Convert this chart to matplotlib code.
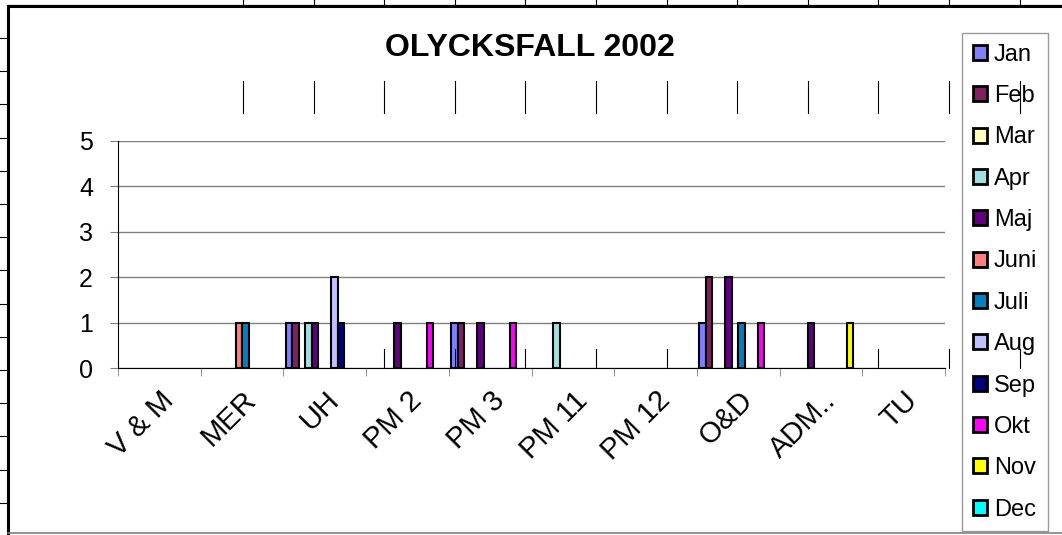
import matplotlib
matplotlib.use("Agg")
import matplotlib.pyplot as plt
import numpy as np
from matplotlib.lines import Line2D

plt.rcParams['font.family'] = ['Liberation Sans', 'DejaVu Sans']

categories = ["V & M", "MER", "UH", "PM 2", "PM 3", "PM 11", "PM 12", "O&D", "ADM..", "TU"]
months = ["Jan", "Feb", "Mar", "Apr", "Maj", "Juni", "Juli", "Aug", "Sep", "Okt", "Nov", "Dec"]

jan = [0, 0, 1, 0, 1, 0, 0, 1, 0, 0]
feb = [0, 0, 1, 0, 1, 0, 0, 2, 0, 0]
mar = [0, 0, 0, 0, 0, 0, 0, 0, 0, 0]
apr = [0, 0, 1, 0, 0, 1, 0, 0, 0, 0]
maj = [0, 0, 1, 1, 1, 0, 0, 2, 1, 0]
juni = [0, 1, 0, 0, 0, 0, 0, 0, 0, 0]
juli = [0, 1, 0, 0, 0, 0, 0, 1, 0, 0]
aug = [0, 0, 2, 0, 0, 0, 0, 0, 0, 0]
sep = [0, 0, 1, 0, 0, 0, 0, 0, 0, 0]
okt = [0, 0, 0, 1, 1, 0, 0, 1, 0, 0]
nov = [0, 0, 0, 0, 0, 0, 0, 0, 1, 0]
dec = [0, 0, 0, 0, 0, 0, 0, 0, 0, 0]
series = [jan, feb, mar, apr, maj, juni, juli, aug, sep, okt, nov, dec]

colors = ["#8080FF", "#802060", "#FFFFC0", "#A0E0E0", "#600080", "#FF8080",
          "#0080C0", "#C0C0FF", "#000080", "#FF00FF", "#FFFF00", "#00FFFF"]

W, H = 1062, 535
fig = plt.figure(figsize=(W / 100, H / 100), dpi=100)
ax = fig.add_axes([118 / W, 1 - 368 / H, (945 - 118) / W, (368 - 141) / H])

x = np.arange(len(categories))
bw = 1 / 12.75
for i, (vals, m, c) in enumerate(zip(series, months, colors)):
    v = np.array(vals, dtype=float)
    v[v == 0] = np.nan
    ax.bar(x + (i - 5.5) * bw, v, bw, color=c, edgecolor="black",
           linewidth=1.5, label=m, zorder=3)

ax.set_xlim(-0.5, len(categories) - 0.5)
ax.set_ylim(0, 5)
ax.set_yticks(range(6))
ax.yaxis.grid(True, color="#808080", linewidth=1, zorder=0)
ax.set_axisbelow(True)
for s in ["top", "right"]:
    ax.spines[s].set_visible(False)
ax.spines["left"].set_color("black")
ax.spines["bottom"].set_color("black")
ax.spines["bottom"].set_zorder(4)

ax.set_xticks(x)
ax.set_xticklabels(categories, rotation=45, ha="right", rotation_mode="anchor", fontsize=21)
ax.set_xticks(np.arange(-0.5, len(categories)), minor=True)
ax.tick_params(axis="x", which="major", length=0, pad=13)
ax.tick_params(axis="x", which="minor", length=6, color="#808080", direction="out")
ax.tick_params(axis="y", length=6, color="#808080", labelsize=18, pad=12)

fig.text(0.499, 1 - 48 / H, "OLYCKSFALL 2002", ha="center", va="center",
         fontsize=23, fontweight="bold")

leg = fig.legend(loc="upper left", bbox_to_anchor=(962 / W, 1 - 33 / H),
                 fontsize=17, frameon=True, fancybox=False, edgecolor="#808080",
                 handlelength=0.6, handleheight=0.6, handletextpad=0.3,
                 labelspacing=0.82, borderpad=0.45, borderaxespad=0)
leg.get_frame().set_linewidth(1)
for p in leg.get_patches():
    p.set_linewidth(2)

# spreadsheet border and grid leftovers around the chart
def px_line(xs, ys, color="black", lw=1.0):
    fig.add_artist(Line2D([a / W for a in xs], [1 - b / H for b in ys],
                          color=color, linewidth=lw, zorder=10))

px_line([8, W], [4.5, 4.5], color="#999999", lw=1)
px_line([8, W], [6, 6], lw=2.2)
px_line([8, 8], [6, 533], lw=2.2)
px_line([8, W], [533, 533], color="#808080", lw=1.2)
for yy in np.arange(38, 520, 33.2):
    px_line([0, 7], [yy, yy], lw=0.8)
for k in range(12):
    xx = 243 + 70.6 * k
    px_line([xx, xx], [0, 5], lw=0.8)
    px_line([xx, xx], [81, 113], lw=0.8)
    if k >= 2:
        px_line([xx, xx], [349, 368], lw=0.8)

fig.savefig("out.png", dpi=100)
